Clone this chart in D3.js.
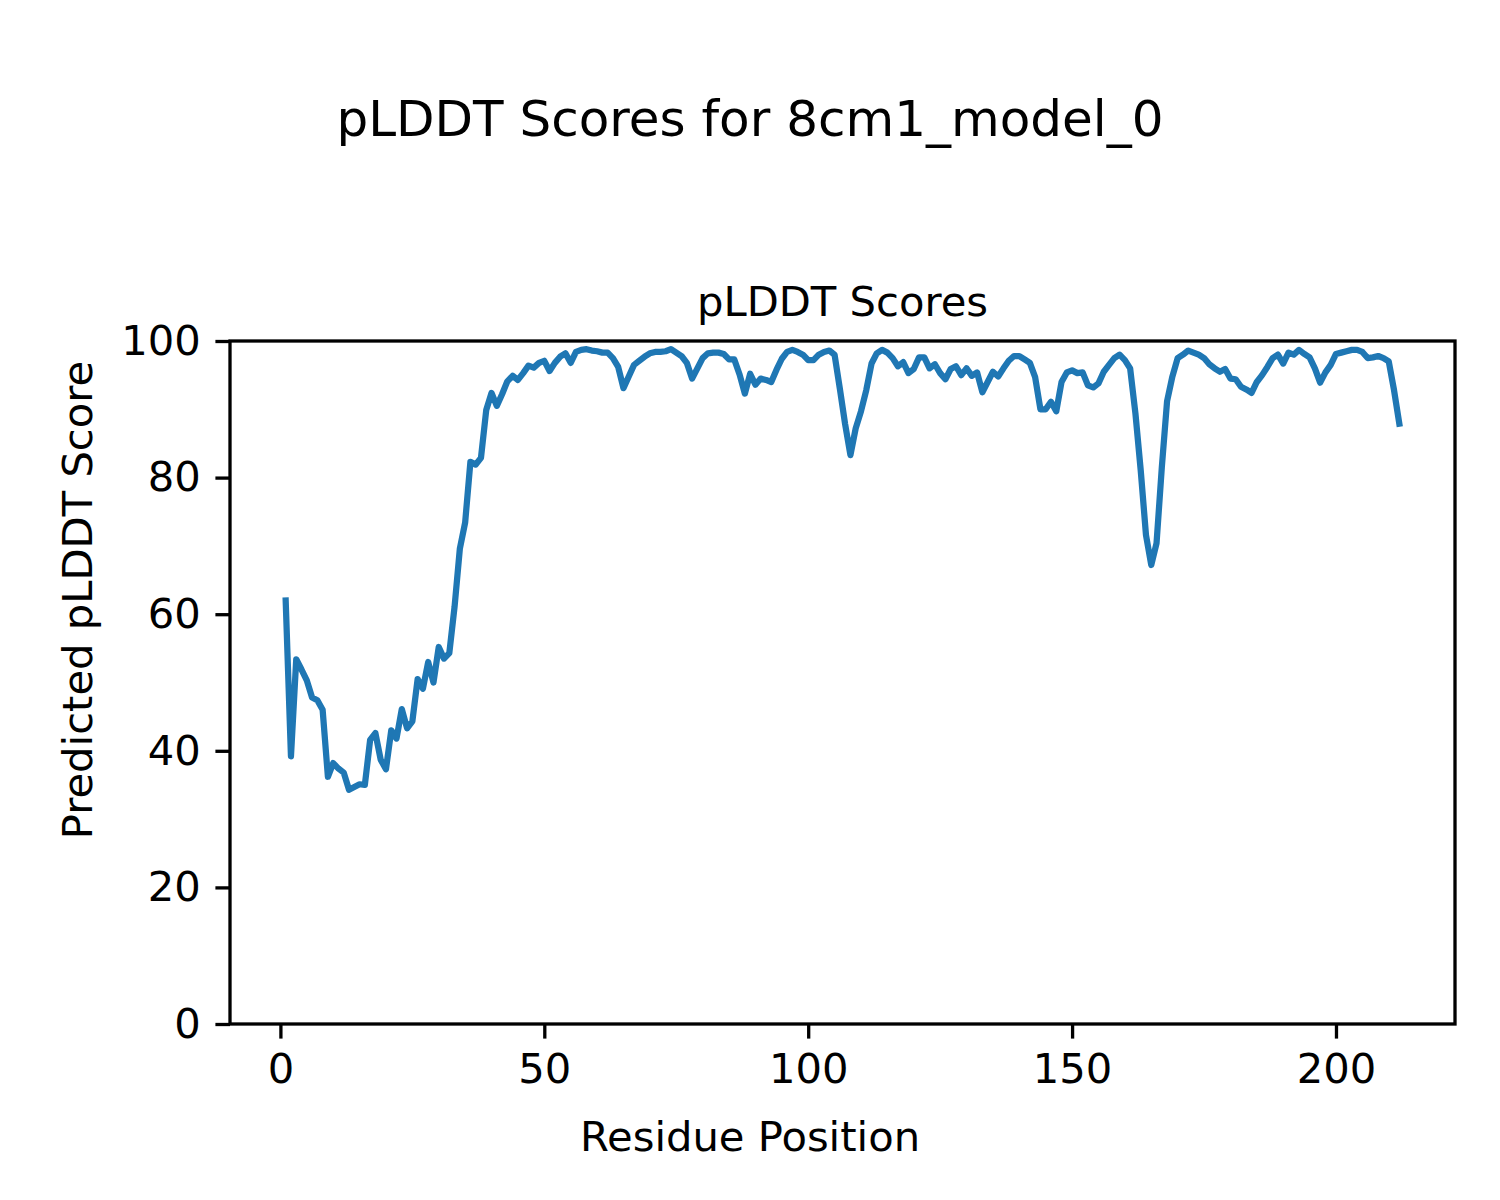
<!DOCTYPE html>
<html><head><meta charset="utf-8">
<script src="https://cdn.jsdelivr.net/npm/d3@7"></script>
<style>body{margin:0;background:#fff}</style>
</head><body>
<svg id="chart" width="1500" height="1200"></svg>
<script>
const scores = [62.0,39.2,53.4,51.9,50.3,47.8,47.4,46.0,36.2,38.2,37.4,36.8,34.3,34.7,35.1,35.0,41.6,42.6,38.7,37.3,
43.0,41.8,46.1,43.3,44.3,50.5,49.1,53.0,50.0,55.2,53.5,54.3,61.1,69.6,73.4,82.3,81.9,82.9,89.9,92.4,
90.5,92.2,94.1,94.9,94.3,95.3,96.4,96.1,96.8,97.1,95.6,96.8,97.7,98.2,96.8,98.4,98.7,98.8,98.6,98.5,
98.3,98.3,97.5,96.2,93.1,94.8,96.5,97.1,97.7,98.2,98.4,98.4,98.5,98.8,98.3,97.8,96.8,94.5,96.0,97.5,
98.2,98.3,98.3,98.1,97.3,97.3,95.1,92.3,95.2,93.6,94.5,94.3,94.0,95.8,97.4,98.4,98.7,98.4,98.0,97.2,
97.2,98.0,98.4,98.6,98.0,93.0,87.8,83.3,87.2,89.7,92.8,96.7,98.2,98.7,98.3,97.5,96.3,96.9,95.3,95.9,
97.6,97.6,96.0,96.6,95.3,94.4,95.9,96.3,95.0,96.0,94.9,95.4,92.5,94.0,95.5,94.8,96.0,97.1,97.8,97.8,
97.3,96.8,94.7,90.0,90.0,91.1,89.7,94.0,95.4,95.7,95.3,95.4,93.5,93.2,93.8,95.5,96.5,97.5,98.0,97.2,
96.0,89.4,81.1,71.6,67.2,70.4,81.5,91.2,94.8,97.5,98.0,98.6,98.3,98.0,97.5,96.6,96.0,95.5,95.9,94.5,
94.4,93.3,92.9,92.4,94.0,95.0,96.2,97.5,98.0,96.7,98.3,98.0,98.7,98.1,97.6,96.0,93.9,95.4,96.5,98.1,
98.3,98.5,98.7,98.7,98.4,97.5,97.6,97.8,97.5,97.0,92.8,87.9];
const residues = scores.map((_, i) => i + 1);
const xTicks = [0, 50, 100, 150, 200];
const yTicks = [0, 20, 40, 60, 80, 100];
const suptitle = "pLDDT Scores for 8cm1_model_0";
const axTitle = "pLDDT Scores";
const xLabel = "Residue Position";
const yLabel = "Predicted pLDDT Score";

const svg = d3.select("#chart");
const font = "DejaVu Sans, sans-serif";
const L = 230, R = 1455, T = 341, B = 1024;
const n = residues.length;
const span = residues[n-1] - residues[0];
const x = d3.scaleLinear().domain([residues[0] - 0.05*span, residues[n-1] + 0.05*span]).range([L, R]);
const y = d3.scaleLinear().domain([0, 100]).range([B, T]);

const tickLen = 14.6, pad = 14.6, fs = 41.7;

const xa = svg.append("g").attr("transform", `translate(0,${B})`)
  .call(d3.axisBottom(x).tickValues(xTicks).tickSize(tickLen).tickPadding(pad).tickFormat(d3.format("d")));
const ya = svg.append("g").attr("transform", `translate(${L},0)`)
  .call(d3.axisLeft(y).tickValues(yTicks).tickSize(tickLen).tickPadding(pad).tickFormat(d3.format("d")));
[xa, ya].forEach(g => {
  g.select(".domain").remove();
  g.selectAll(".tick line").attr("stroke", "#000").attr("stroke-width", 3.3);
  g.selectAll(".tick text").attr("font-family", font).attr("font-size", fs).attr("fill", "#000");
});

svg.append("path")
  .datum(residues.map((r, i) => [r, scores[i]]))
  .attr("fill", "none").attr("stroke", "#1f77b4").attr("stroke-width", 6.25)
  .attr("stroke-linejoin", "round").attr("stroke-linecap", "square")
  .attr("d", d3.line().x(d => x(d[0])).y(d => y(d[1])));

svg.append("rect").attr("x", L).attr("y", T).attr("width", R - L).attr("height", B - T)
  .attr("fill", "none").attr("stroke", "#000").attr("stroke-width", 3.3);

svg.append("text").attr("x", 750).attr("y", 136).attr("text-anchor", "middle")
  .attr("font-family", font).attr("font-size", 50).text(suptitle);
svg.append("text").attr("x", (L + R) / 2).attr("y", 316).attr("text-anchor", "middle")
  .attr("font-family", font).attr("font-size", fs).text(axTitle);
svg.append("text").attr("x", 750).attr("y", 1151).attr("text-anchor", "middle")
  .attr("font-family", font).attr("font-size", fs).text(xLabel);
svg.append("text").attr("transform", "translate(92,600) rotate(-90)").attr("text-anchor", "middle")
  .attr("font-family", font).attr("font-size", fs).text(yLabel);
</script>
</body></html>
